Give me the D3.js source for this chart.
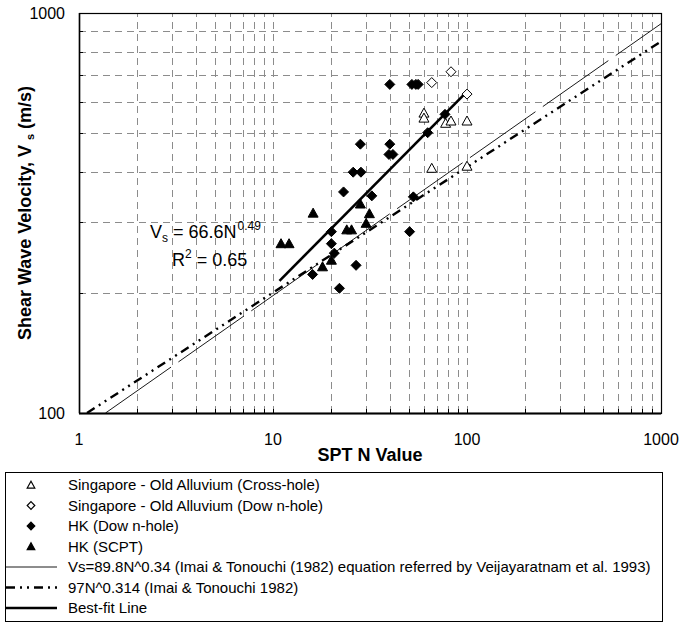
<!doctype html>
<html>
  <head>
    <script src="https://cdn.jsdelivr.net/npm/d3@7/dist/d3.min.js"></script>
    <style>
      body, html {
        margin: 0;
        background: #fff;
      }
      svg {
        font-family: "Liberation Sans", Arial, sans-serif;
      }
      line.grid {
        stroke: #8c8c8c;
        stroke-width: 1;
        stroke-dasharray: 7,5;
      }
      text.tick {
        font-size: 16px;
      }
      text.title {
        font-size: 18px;
        font-weight: bold;
      }
      text.leg {
        font-size: 15px;
      }
    </style>
  </head>
  <body>
    <svg width="698" height="624"></svg>
    <script>
      // values: [SPT N, Vs (m/s)]
      var sgCrossHole = [[60,562],[60,546],[77.6,530],[82.7,537],[100,537],[65.8,409],[100,414]];
      var sgDownHole = [[82.7,713],[65.8,670],[100,627]];
      var hkDownHole = [[40,663],[52,663],[54.5,663],[56,663],[77,558],[62.7,502],[28.2,470],[40,470],
                        [39.6,443],[41.5,443],[25.9,400],[28.4,400],[23.1,357],[32.3,349],[52.9,347],
                        [20,284],[20,265],[20.7,251],[50.6,284],[26.8,234],[16,222],[22,205]];
      var hkScpt = [[16.1,316],[11,265],[12.1,265],[28.2,333],[31.4,315],[30.2,298],[24,287],[25.4,287],
                    [20,241],[18,232]];

      // line end points
      var imaiLine = [[1.37,100],[1000,940]];
      var tonouchiLine = [[1.1,100],[1000,849]];
      var bestFit = [[10.8,214],[100,636]];

      var xTickLabels = [1, 10, 100, 1000];
      var yTickLabels = [100, 1000];
      var legendLabels = [
        "Singapore - Old Alluvium (Cross-hole)",
        "Singapore - Old Alluvium (Dow n-hole)",
        "HK (Dow n-hole)",
        "HK (SCPT)",
        "Vs=89.8N^0.34 (Imai & Tonouchi (1982) equation referred by Veijayaratnam et al. 1993)",
        "97N^0.314 (Imai & Tonouchi 1982)",
        "Best-fit Line"
      ];

      var L = 79, R = 661, T = 13, B = 413;
      var x = d3.scaleLog().domain([1, 1000]).range([L, R]);
      var y = d3.scaleLog().domain([100, 1000]).range([B, T]);

      var svg = d3.select("svg");

      // grid
      var xGrid = [];
      [1, 10, 100].forEach(d => { for (var k = 2; k <= 10; k++) if (d * k < 1000) xGrid.push(d * k); });
      var yGrid = d3.range(200, 1000, 100);

      svg.selectAll("line.xg").data(xGrid).enter().append("line")
        .attr("class", "grid")
        .attr("x1", d => Math.round(x(d)) + 0.5).attr("x2", d => Math.round(x(d)) + 0.5)
        .attr("y1", B).attr("y2", T);
      svg.selectAll("line.yg").data(yGrid).enter().append("line")
        .attr("class", "grid")
        .attr("y1", d => Math.round(y(d)) + 0.5).attr("y2", d => Math.round(y(d)) + 0.5)
        .attr("x1", L).attr("x2", R);

      // small inner ticks
      svg.selectAll("line.xt").data(xGrid).enter().append("line")
        .attr("x1", d => Math.round(x(d)) + 0.5).attr("x2", d => Math.round(x(d)) + 0.5)
        .attr("y1", B).attr("y2", B - 4).attr("stroke", "#000");
      svg.selectAll("line.yt").data(yGrid).enter().append("line")
        .attr("y1", d => Math.round(y(d)) + 0.5).attr("y2", d => Math.round(y(d)) + 0.5)
        .attr("x1", L).attr("x2", L + 4).attr("stroke", "#000");

      // frame
      svg.append("rect")
        .attr("x", L + 0.5).attr("y", T + 0.5)
        .attr("width", R - L).attr("height", B - T)
        .attr("fill", "none").attr("stroke", "#000").attr("stroke-width", 1.2);
      svg.append("line").attr("x1", L).attr("x2", R).attr("y1", B + 0.5).attr("y2", B + 0.5)
        .attr("stroke", "#000").attr("stroke-width", 2);
      svg.append("line").attr("x1", L + 0.5).attr("x2", L + 0.5).attr("y1", T).attr("y2", B)
        .attr("stroke", "#000").attr("stroke-width", 1.5);

      // lines
      var line = d3.line().x(d => x(d[0])).y(d => y(d[1]));
      var styles = {
        imai: { width: 0.9, dash: "80,9" },
        tonouchi: { width: 2.4, dash: "9,5,2,5,2,5" },
        best: { width: 2.6, dash: null }
      };
      svg.append("path").attr("d", line(imaiLine)).attr("fill", "none").attr("stroke", "#000")
        .attr("stroke-width", styles.imai.width).attr("stroke-dasharray", styles.imai.dash);
      svg.append("path").attr("d", line(tonouchiLine)).attr("fill", "none").attr("stroke", "#000")
        .attr("stroke-width", styles.tonouchi.width).attr("stroke-dasharray", styles.tonouchi.dash);
      svg.append("path").attr("d", line(bestFit)).attr("fill", "none").attr("stroke", "#000")
        .attr("stroke-width", styles.best.width);

      // markers
      function tri(cx, cy, s) {
        s = s || 5;
        return "M" + cx + "," + (cy - s) + "L" + (cx + s) + "," + (cy + s * 0.8) + "L" + (cx - s) + "," + (cy + s * 0.8) + "Z";
      }
      function dia(cx, cy, s) {
        s = s || 5;
        return "M" + cx + "," + (cy - s) + "L" + (cx + s) + "," + cy + "L" + cx + "," + (cy + s) + "L" + (cx - s) + "," + cy + "Z";
      }
      function drawSet(data, shape, filled) {
        svg.append("g").selectAll("path").data(data).enter().append("path")
          .attr("d", d => shape(x(d[0]), y(d[1])))
          .attr("fill", filled ? "#000" : "#fff")
          .attr("stroke", "#000").attr("stroke-width", 1);
      }
      drawSet(sgCrossHole, tri, false);
      drawSet(sgDownHole, dia, false);
      drawSet(hkDownHole, dia, true);
      drawSet(hkScpt, tri, true);

      // tick labels
      svg.selectAll("text.xl").data(xTickLabels).enter().append("text")
        .attr("class", "tick").attr("x", d => x(d)).attr("y", 445)
        .attr("text-anchor", "middle").text(d => d);
      svg.selectAll("text.yl").data(yTickLabels).enter().append("text")
        .attr("class", "tick").attr("x", 65).attr("y", d => y(d) + 6)
        .attr("text-anchor", "end").text(d => d);

      // axis titles
      svg.append("text").attr("class", "title").attr("x", 370).attr("y", 461)
        .attr("text-anchor", "middle").text("SPT N Value");
      var yt = svg.append("text").attr("class", "title").attr("font-size", "19px")
        .attr("transform", "translate(31," + ((T + B) / 2) + ") rotate(-90)")
        .attr("text-anchor", "middle");
      yt.append("tspan").text("Shear Wave Velocity, V ");
      yt.append("tspan").attr("font-size", "11px").attr("dy", 3).text("s");
      yt.append("tspan").attr("dy", -3).text(" (m/s)");

      // equation annotation
      var eq = svg.append("text").attr("x", 150).attr("y", 238).attr("font-size", "18px");
      eq.append("tspan").text("V");
      eq.append("tspan").attr("font-size", "12px").attr("dy", 4).text("s");
      eq.append("tspan").attr("dy", -4).text(" = 66.6N");
      eq.append("tspan").attr("font-size", "12px").attr("dy", -8).attr("dx", 1).text("0.49");
      var r2 = svg.append("text").attr("x", 172).attr("y", 266).attr("font-size", "18px");
      r2.append("tspan").text("R");
      r2.append("tspan").attr("font-size", "12px").attr("dy", -8).text("2");
      r2.append("tspan").attr("dy", 8).text(" = 0.65");

      // legend
      svg.append("rect").attr("x", 5.5).attr("y", 472.5).attr("width", 657).attr("height", 149)
        .attr("fill", "#fff").attr("stroke", "#000").attr("stroke-width", 1);
      var rowY = d3.range(7).map(i => 485 + i * 20.5);
      var lg = svg.append("g");
      lg.selectAll("text").data(legendLabels).enter().append("text")
        .attr("class", "leg").attr("x", 68).attr("y", (d, i) => rowY[i] + 5).text(d => d);
      var mk = [[tri, false], [dia, false], [dia, true], [tri, true]];
      mk.forEach((m, i) => {
        lg.append("path").attr("d", m[0](31, rowY[i], 3.8))
          .attr("fill", m[1] ? "#000" : "#fff").attr("stroke", "#000").attr("stroke-width", 1.2);
      });
      [["imai", 4], ["tonouchi", 5], ["best", 6]].forEach(s => {
        var st = styles[s[0]];
        lg.append("line").attr("x1", 6).attr("x2", 57).attr("y1", rowY[s[1]]).attr("y2", rowY[s[1]])
          .attr("stroke", "#000").attr("stroke-width", st.width)
          .attr("stroke-dasharray", s[0] == "imai" ? null : st.dash);
      });
    </script>
  </body>
</html>
